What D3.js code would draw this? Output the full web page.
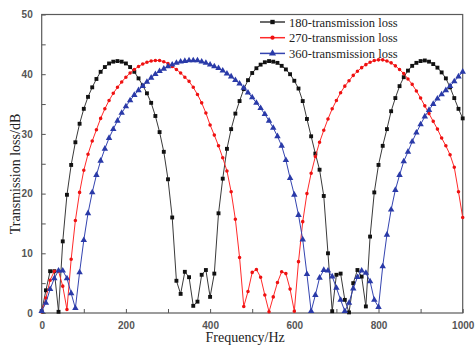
<!DOCTYPE html>
<html>
<head>
<meta charset="utf-8">
<script src="https://cdn.jsdelivr.net/npm/d3@7"></script>
<style>
  body { margin: 0; background: #fff; }
  svg { display: block; }
</style>
</head>
<body>
<div id="chart"></div>
<script>
// Data: frequency step 10 Hz, 0..1000
const frequencies = d3.range(0, 1001, 10);

const loss180 = [
  0.3, 3.8, 7, 7, 0.2, 12, 19.8, 24.8, 28.6, 31.7,
  34.2, 36.2, 37.8, 39.2, 40.4, 41.2, 41.8, 42.1, 42.2, 42.1,
  41.8, 41.2, 40.4, 39.3, 38.1, 36.8, 35.2, 33, 30.3, 27,
  22.4, 16, 5.4, 3.2, 6.9, 6, 1.2, 1.9, 6.4, 7.2,
  2.7, 6.6, 16.7, 22.5, 27.5, 30.8, 33.4, 35.5, 37.5, 39,
  40.2, 41, 41.6, 42, 42.2, 42.1, 41.9, 41.4, 40.8, 40,
  38.9, 37.6, 35.5, 32.5, 29.6, 26.7, 24, 19.6, 10, 0.3,
  6.4, 6.6, 2.2, 0.1, 5, 7.2, 6.1, 1.1, 12.8, 20.2,
  24.8, 28, 30.8, 33.8, 36, 38, 39.5, 40.6, 41.4, 41.9,
  42.2, 42.3, 42.1, 41.7, 41.1, 40.3, 39.3, 37.8, 36, 34.2,
  32.6
];

const loss270 = [
  0.2, 2.5, 5.5, 7, 7, 4.5, 0.6, 9, 15.5, 20.2,
  23.9, 26.6, 28.8, 30.7, 32.6, 34.2, 35.6, 36.8, 37.8, 38.7,
  39.5, 40.2, 40.8, 41.3, 41.7, 42, 42.2, 42.3, 42.3, 42.1,
  41.8, 41.3, 40.8, 40.2, 39.5, 38.8, 37.8, 36.6, 35.2, 33.5,
  31.5, 29.8, 28, 26, 23.8, 20.3, 15.7, 9.3, 1.1, 3.6,
  6.8, 7.3, 6, 3, 0.2, 2.7, 5.1, 6.9, 6.6, 4,
  0.3, 8.6, 15.3, 20, 23.4, 26.2, 28.6, 30.6, 32.5, 34.2,
  35.6, 36.9, 38, 38.9, 39.8, 40.5, 41.1, 41.6, 42, 42.3,
  42.4, 42.4, 42.2, 41.9, 41.4, 40.8, 40.1, 39.2, 38.3, 37.2,
  36, 34.7, 33.4, 32.1, 30.8, 29.3, 28, 26.5, 24.4, 20.3,
  16
];

const loss360 = [
  0.3, 1.7, 4, 5.8, 7.1, 7.1, 5.8, 3.3, 0.8, 6.8,
  12.2, 16.7, 20.2, 23.1, 25.5, 27.5, 29.3, 30.8, 32.2, 33.5,
  34.6, 35.6, 36.5, 37.3, 38, 38.7, 39.4, 40, 40.5, 40.9,
  41.3, 41.6, 41.9, 42.1, 42.2, 42.3, 42.3, 42.3, 42.1, 41.9,
  41.6, 41.3, 41, 40.6, 40.1, 39.6, 39, 38.4, 37.7, 36.9,
  36.1, 35.2, 34.3, 33.3, 32.2, 31, 29.6, 28, 25.6, 22.6,
  19.8, 16.4, 12.3, 6.5, 0.3, 3, 5.9, 7.2, 7.1, 6.1,
  4.2, 2.2, 0.3, 1.7, 4.1, 6, 7.1, 6.7, 5.3, 2.2,
  1, 7.8, 13.1, 17.3, 20.6, 23.1, 25.4, 27, 28.7, 30.2,
  31.6, 32.9, 34, 35, 35.9, 36.6, 37.3, 38, 38.8, 39.6,
  40.4
];

const seriesNames = ["180-transmission loss", "270-transmission loss", "360-transmission loss"];
const xTickValues = [0, 200, 400, 600, 800, 1000];
const yTickValues = [0, 10, 20, 30, 40, 50];

const series = [
  { name: seriesNames[0], values: loss180, line: "#3a3a3a", fill: "#111111", symbol: d3.symbolSquare, size: 15 },
  { name: seriesNames[1], values: loss270, line: "#ff2a2a", fill: "#ee1111", symbol: d3.symbolCircle, size: 10 },
  { name: seriesNames[2], values: loss360, line: "#3444b0", fill: "#2a3aa8", symbol: d3.symbolTriangle, size: 18 }
];

// Layout
const W = 476, H = 345;
const margin = { top: 14.5, right: 13.3, bottom: 32, left: 41.7 };
const width = W - margin.left - margin.right,
      height = H - margin.top - margin.bottom;

const svg = d3.select("#chart").append("svg")
  .attr("width", W)
  .attr("height", H);

const g = svg.append("g")
  .attr("transform", "translate(" + margin.left + "," + margin.top + ")");

const x = d3.scaleLinear().domain([0, 1000]).range([0, width]);
const y = d3.scaleLinear().domain([0, 50]).range([height, 0]);

// Axes (ticks inward)
const xAxis = g.append("g")
  .attr("transform", "translate(0," + height + ")")
  .call(d3.axisBottom(x).tickValues(d3.range(0, 1001, 100)).tickSize(-4).tickPadding(9)
    .tickFormat(d => xTickValues.includes(d) ? d : ""));

const yAxis = g.append("g")
  .call(d3.axisLeft(y).tickValues(d3.range(0, 51, 5)).tickSize(-4).tickPadding(9)
    .tickFormat(d => yTickValues.includes(d) ? d : ""));

[xAxis, yAxis].forEach(a => {
  a.select(".domain").remove();
  a.selectAll("line").attr("stroke", "#555");
  a.selectAll("text")
    .attr("fill", "#555")
    .style("font-family", "Arial, 'Liberation Sans', sans-serif")
    .style("font-weight", "bold")
    .style("font-size", "10px");
});

// Frame
g.append("rect")
  .attr("width", width)
  .attr("height", height)
  .attr("fill", "none")
  .attr("stroke", "#5a5a5a")
  .attr("stroke-width", 1.2);

// Lines + markers
const line = d3.line()
  .x((d, i) => x(frequencies[i]))
  .y(d => y(d));

series.forEach(s => {
  g.append("path")
    .datum(s.values)
    .attr("fill", "none")
    .attr("stroke", s.line)
    .attr("stroke-width", 1)
    .attr("d", line);

  g.selectAll(null)
    .data(s.values)
    .enter().append("path")
    .attr("d", d3.symbol().type(s.symbol).size(s.size))
    .attr("transform", (d, i) => "translate(" + x(frequencies[i]) + "," + y(d) + ")")
    .attr("fill", s.fill);
});

// Axis titles
svg.append("text")
  .attr("x", margin.left + width / 2 - 7)
  .attr("y", 342)
  .attr("text-anchor", "middle")
  .style("font-family", "'Times New Roman', 'Liberation Serif', serif")
  .style("font-size", "14px")
  .attr("fill", "#222")
  .text("Frequency/Hz");

svg.append("text")
  .attr("transform", "translate(20," + 174 + ") rotate(-90)")
  .attr("text-anchor", "middle")
  .style("font-family", "'Times New Roman', 'Liberation Serif', serif")
  .style("font-size", "14px")
  .attr("fill", "#222")
  .text("Transmission loss/dB");

// Legend
const legend = svg.append("g");
series.forEach((s, i) => {
  const ly = 22 + i * 15.7;
  legend.append("line")
    .attr("x1", 260).attr("x2", 285)
    .attr("y1", ly).attr("y2", ly)
    .attr("stroke", s.line)
    .attr("stroke-width", 1.5);
  legend.append("path")
    .attr("d", d3.symbol().type(s.symbol).size(s.size + 4))
    .attr("transform", "translate(272.5," + ly + ")")
    .attr("fill", s.fill);
  legend.append("text")
    .attr("x", 289)
    .attr("y", ly + 4.5)
    .style("font-family", "'Times New Roman', 'Liberation Serif', serif")
    .style("font-size", "12.5px")
    .attr("fill", "#222")
    .text(s.name);
});
</script>
</body>
</html>
